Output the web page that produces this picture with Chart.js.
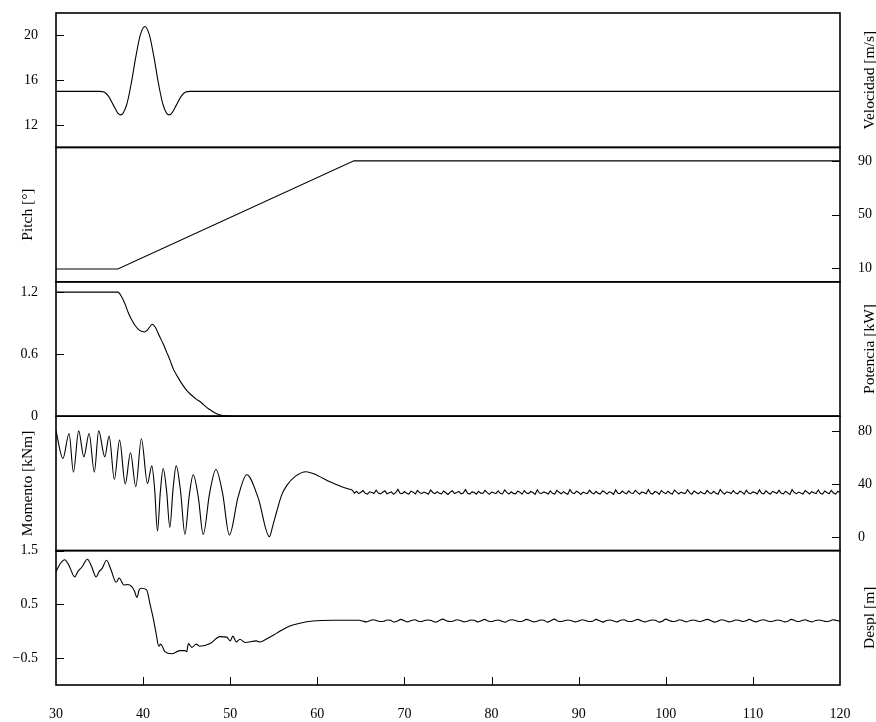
<!DOCTYPE html>
<html>
<head>
<meta charset="utf-8">
<script src="https://cdn.jsdelivr.net/npm/chart.js@4.4.1/dist/chart.umd.min.js"></script>
<style>
  html, body { margin: 0; padding: 0; background: #fff; }
  canvas { display: block; }
</style>
</head>
<body>
<canvas id="c" width="876" height="722"></canvas>
<script>
// ---- time axis [s] ----
const xMin = 30, xMax = 120;
const xTickStep = 10;

// ---- wind speed [m/s] ----
const velT = [30, 35.0, 35.52, 36.04, 36.56, 37.08, 37.44, 38.12, 38.64, 39.16, 39.68, 40.2,
              40.72, 41.24, 41.76, 42.28, 42.96, 43.32, 43.84, 44.36, 44.88, 45.4, 120];
const velV = [15, 15, 14.94, 14.55, 13.82, 13.09, 12.9, 13.83, 15.72, 18.08, 20.04, 20.8,
              20.04, 18.08, 15.72, 13.83, 12.9, 13.09, 13.82, 14.55, 14.94, 15, 15];
const velTicks = [12, 16, 20];

// ---- blade pitch [deg] ----
const pitchT = [30, 37.1, 64.2, 120];
const pitchV = [9.5, 9.5, 90, 90];
const pitchTicks = [10, 50, 90];

// ---- power [kW] ----
const potT = [30, 37.1, 37.5, 37.9, 38.3, 38.7, 39.1, 39.6, 40.15, 40.6,
              41.05, 41.4, 41.9, 42.3, 42.7, 43.1, 43.45, 43.9, 44.4, 45.0,
              45.6, 46.1, 46.7, 47.1, 47.5, 48.0, 48.4, 49.0, 49.6, 50.5, 120];
const potV = [1.2, 1.2, 1.16, 1.09, 1.0, 0.93, 0.875, 0.83, 0.815, 0.845,
              0.89, 0.86, 0.77, 0.70, 0.62, 0.54, 0.46, 0.39, 0.32, 0.25,
              0.20, 0.165, 0.13, 0.10, 0.072, 0.045, 0.026, 0.01, 0.003, 0, 0];
const potTicks = [0, 0.6, 1.2];

// ---- bending moment [kNm] ----
const momT = [30.0, 30.8, 31.5, 32.0, 32.6, 33.2, 33.8, 34.4, 34.9, 35.6,
              36.1, 36.7, 37.3, 37.95, 38.55, 39.16, 39.8, 40.5, 41.0, 41.33,
              41.65, 41.98, 42.3, 42.69, 43.07, 43.44, 43.8, 44.3, 44.8, 45.28,
              45.75, 46.33, 46.9, 47.63, 48.36, 49.13, 49.9, 50.9, 51.9, 53.2,
              54.5, 54.9, 55.33, 55.9, 56.5, 57.5, 58.7, 60.0, 61.45, 62.8, 64.0];
const momV = [80, 59.3, 78, 49, 80, 60.5, 78, 49, 80, 60.5,
              76, 43.5, 73, 40, 63.5, 38, 74, 40.5, 53.7, 35.6,
              4.7, 34.3, 51.7, 35.3, 7.5, 36.6, 53.7, 34.6, 2.2, 30.4,
              47, 30.4, 2.2, 33.0, 51, 32.8, 1.7, 30.2, 47, 29.8,
              0.5, 9, 19.2, 31.7, 39, 46, 49.3, 46.5, 41.7, 38, 35.5];
// steady-state record after feathering, sampled every 0.25 s from 64.25 s
const momTailStart = 64.25, momTailStep = 0.25;
const momTail = [
  33.2, 34.6, 32.8, 33.9, 35.1, 33.0, 32.4, 34.2, 33.6, 32.9, 35.4, 33.3, 32.6, 33.8, 34.9, 32.7,
  33.5, 34.1, 32.3, 33.7, 36.0, 33.1, 32.8, 34.4, 33.0, 32.5, 34.7, 33.9, 32.6, 35.2, 33.4, 32.9,
  34.0, 33.2, 32.4, 35.6, 33.7, 32.8, 34.3, 33.1, 32.6, 34.8, 33.5, 32.2, 33.9, 35.0, 32.9, 33.6,
  34.5, 32.7, 33.3, 35.8, 33.0, 32.5, 34.1, 33.8, 32.4, 34.6, 33.2, 32.9, 35.3, 33.6, 32.3, 34.0,
  33.4, 32.8, 34.9, 33.1, 32.6, 35.5, 33.7, 32.5, 34.2, 33.0, 32.7, 34.7, 33.9, 32.4, 35.1, 33.3,
  32.8, 34.4, 33.6, 32.3, 35.7, 33.2, 32.9, 34.1, 33.5, 32.6, 34.8, 33.0, 32.5, 35.2, 33.8, 32.7,
  34.3, 33.1, 32.4, 35.9, 33.4, 32.8, 34.6, 33.7, 32.2, 34.0, 33.3, 32.9, 35.4, 33.5, 32.6, 34.5,
  33.0, 32.7, 35.0, 33.9, 32.5, 34.2, 33.6, 32.3, 35.6, 33.1, 32.8, 34.7, 33.4, 32.6, 34.9, 33.2,
  32.9, 35.3, 33.7, 32.4, 34.1, 33.5, 32.7, 35.8, 33.0, 32.5, 34.4, 33.8, 32.3, 35.1, 33.6, 32.8,
  34.6, 33.3, 32.5, 35.5, 33.9, 32.6, 34.0, 33.2, 32.9, 35.7, 33.4, 32.4, 34.8, 33.7, 32.7, 34.3,
  33.1, 32.6, 35.2, 33.5, 32.8, 34.5, 33.0, 32.3, 35.9, 33.8, 32.5, 34.2, 33.6, 32.9, 35.0, 33.2,
  32.7, 34.7, 33.9, 32.4, 35.4, 33.3, 32.8, 34.1, 33.7, 32.5, 35.6, 33.0, 32.6, 34.9, 33.5, 32.3,
  34.4, 33.8, 32.9, 35.3, 33.1, 32.7, 34.6, 33.4, 32.2, 35.8, 33.6, 32.8, 34.0, 33.2, 32.5, 35.1,
  33.9, 32.6, 34.3, 33.5, 32.9, 35.5, 33.0, 32.4, 34.8, 33.7, 32.7, 35.2, 33.3, 32.5, 34.5, 33.8
];
const momTicks = [0, 40, 80];

// ---- tower displacement [m] ----
const desT = [30.0, 30.5, 31.0, 31.5, 32.15, 32.5, 33.0, 33.6, 34.1, 34.6,
              34.95, 35.3, 35.8, 36.3, 36.9, 37.25, 37.8, 38.2, 38.7, 39.0,
              39.3, 39.55, 39.8, 40.4, 40.8, 41.2, 41.5, 41.8, 42.0, 42.2,
              42.5, 43.3, 44.2, 44.8, 45.0, 45.2, 45.6, 46.1, 46.5, 47.7,
              48.8, 49.6, 50.0, 50.3, 50.7, 51.1, 51.7, 53.0, 53.4, 54.2,
              55.3, 56.7, 58.0, 59.5, 61.8, 64.4];
const desV = [1.11, 1.26, 1.33, 1.22, 1.01, 1.11, 1.2, 1.34, 1.2, 1.01,
              1.11, 1.17, 1.32, 1.15, 0.91, 0.99, 0.86, 0.87, 0.83, 0.75,
              0.63, 0.77, 0.80, 0.77, 0.5, 0.21, -0.05, -0.28, -0.24, -0.28,
              -0.38, -0.42, -0.36, -0.36, -0.38, -0.23, -0.30, -0.24, -0.28, -0.23,
              -0.10, -0.11, -0.18, -0.09, -0.20, -0.15, -0.21, -0.18, -0.20, -0.14,
              -0.04, 0.09, 0.15, 0.19, 0.205, 0.205];
// steady-state record, sampled every 0.4 s from 64.8 s
const desTailStart = 64.8, desTailStep = 0.4;
const desTail = [
  0.205, 0.19, 0.175, 0.195, 0.215, 0.2, 0.18, 0.185, 0.21, 0.205, 0.17, 0.19, 0.22, 0.195, 0.175, 0.2,
  0.215, 0.185, 0.18, 0.205, 0.21, 0.19, 0.17, 0.2, 0.225, 0.195, 0.18, 0.19, 0.215, 0.2, 0.175, 0.185,
  0.21, 0.205, 0.175, 0.195, 0.22, 0.19, 0.18, 0.2, 0.21, 0.185, 0.17, 0.205, 0.215, 0.195, 0.18, 0.19,
  0.22, 0.2, 0.175, 0.185, 0.21, 0.205, 0.17, 0.195, 0.225, 0.19, 0.18, 0.2, 0.21, 0.195, 0.175, 0.19,
  0.215, 0.2, 0.18, 0.185, 0.22, 0.195, 0.17, 0.2, 0.21, 0.19, 0.175, 0.205, 0.215, 0.185, 0.18, 0.2,
  0.22, 0.195, 0.175, 0.19, 0.21, 0.205, 0.17, 0.185, 0.225, 0.2, 0.18, 0.19, 0.215, 0.195, 0.175, 0.2,
  0.21, 0.19, 0.18, 0.205, 0.22, 0.195, 0.17, 0.19, 0.215, 0.2, 0.175, 0.185, 0.21, 0.205, 0.18, 0.195,
  0.22, 0.19, 0.175, 0.2, 0.215, 0.195, 0.18, 0.19, 0.21, 0.2, 0.175, 0.185, 0.22, 0.2, 0.18, 0.195,
  0.215, 0.19, 0.175, 0.2, 0.21, 0.195, 0.18, 0.19, 0.215, 0.2, 0.19
];
const desTicks = [-0.5, 0.5, 1.5];

// ---- helpers ----
const pts = (t, v) => t.map((x, i) => ({ x, y: v[i] }));
const tail = (start, step, v) => v.map((y, i) => ({ x: +(start + i * step).toFixed(3), y }));

const FONT = '"Liberation Serif", "Times New Roman", serif';
Chart.defaults.font.family = FONT;
Chart.defaults.font.size = 14;
Chart.defaults.color = '#000';

const fmt = v => (v < 0 ? '\u2212' + Math.abs(v) : String(v));

// panels from top to bottom: which side carries the numbers, and the title
const panels = [
  { name: 'Velocidad [m/s]', L: 'L1', R: 'R1', tickSide: 'left' },
  { name: 'Pitch [\u00b0]',   L: 'L2', R: 'R2', tickSide: 'right' },
  { name: 'Potencia [kW]',   L: 'L3', R: 'R3', tickSide: 'left' },
  { name: 'Momento [kNm]',   L: 'L4', R: 'R4', tickSide: 'right' },
  { name: 'Despl [m]',       L: 'L5', R: 'R5', tickSide: 'left' }
];

const noPad = s => { s.paddingTop = 0; s.paddingBottom = 0; s.paddingLeft = 0; s.paddingRight = 0; };

function yAxis(side, idx, min, max, ticks, showTicks) {
  return {
    type: 'linear',
    position: side,
    stack: side,
    // left boxes are placed by descending weight, right boxes by ascending weight
    weight: side === 'left' ? 10 - idx : idx,
    stackWeight: 1,
    min, max,
    grid: { display: false, drawTicks: false },
    border: { display: false },
    ticks: {
      display: showTicks,
      padding: 18,
      autoSkip: false,
      color: '#000',
      font: { size: 14, family: FONT },
      callback: fmt
    },
    afterBuildTicks: s => { s.ticks = ticks.map(v => ({ value: v })); },
    afterFit: s => { s.width = side === 'left' ? 56 : 36; noPad(s); }
  };
}

const ranges = [
  [10, 22, velTicks],
  [0, 100, pitchTicks],
  [0, 1.3, potTicks],
  [-10, 91, momTicks],
  [-1, 1.5, desTicks]
];

const scales = {
  x: {
    type: 'linear',
    position: 'bottom',
    min: xMin, max: xMax,
    grid: { display: false, drawTicks: false },
    border: { display: false },
    ticks: { stepSize: xTickStep, padding: 21, color: '#000', font: { size: 14, family: FONT }, maxRotation: 0 },
    afterFit: s => { s.height = 37; noPad(s); }
  }
};
panels.forEach((p, i) => {
  const [mn, mx, tk] = ranges[i];
  scales[p.L] = yAxis('left', i + 1, mn, mx, tk, p.tickSide === 'left');
  scales[p.R] = yAxis('right', i + 1, mn, mx, tk, p.tickSide === 'right');
});

// frames around each panel, inward tick marks and side titles
const panelFrame = {
  id: 'panelFrame',
  afterDraw(chart) {
    const { ctx, chartArea: a } = chart;
    const sc = chart.scales;
    ctx.save();
    ctx.strokeStyle = '#000';
    ctx.lineWidth = 1;
    ctx.beginPath();
    panels.forEach(p => {
      const s = sc[p.tickSide === 'left' ? p.L : p.R];
      s.ticks.forEach(t => {
        const y = Math.round(s.getPixelForValue(t.value)) + 0.5;
        if (p.tickSide === 'left') { ctx.moveTo(a.left, y); ctx.lineTo(a.left + 8, y); }
        else { ctx.moveTo(a.right, y); ctx.lineTo(a.right - 8, y); }
      });
    });
    sc.x.ticks.forEach(t => {
      if (t.value > xMin && t.value < xMax) {
        const x = Math.round(sc.x.getPixelForValue(t.value)) + 0.5;
        ctx.moveTo(x, a.bottom); ctx.lineTo(x, a.bottom - 8);
      }
    });
    ctx.stroke();

    ctx.lineWidth = 1.6;
    panels.forEach(p => {
      const s = sc[p.L];
      ctx.strokeRect(a.left, s.top, a.right - a.left, s.bottom - s.top);
    });

    ctx.fillStyle = '#000';
    ctx.font = '15.5px ' + FONT;
    ctx.textAlign = 'center';
    ctx.textBaseline = 'middle';
    panels.forEach(p => {
      const s = sc[p.L];
      const cy = (s.top + s.bottom) / 2;
      const cx = p.tickSide === 'left' ? a.right + 30 : a.left - 28;
      ctx.save();
      ctx.translate(cx, cy);
      ctx.rotate(-Math.PI / 2);
      ctx.fillText(p.name, 0, 0);
      ctx.restore();
    });
    ctx.restore();
  }
};

const lineStyle = {
  borderColor: '#000',
  borderWidth: 1.1,
  pointRadius: 0,
  fill: false,
  cubicInterpolationMode: 'monotone'
};
const straight = { cubicInterpolationMode: 'default', tension: 0 };

// the steady tail of the moment record is drawn point to point
const momHead = pts(momT, momV);
const momRest = [momHead[momHead.length - 1]].concat(tail(momTailStart, momTailStep, momTail));

new Chart(document.getElementById('c'), {
  type: 'line',
  data: {
    datasets: [
      { ...lineStyle, label: 'Velocidad', data: pts(velT, velV), yAxisID: 'L1' },
      { ...lineStyle, ...straight, label: 'Pitch', data: pts(pitchT, pitchV), yAxisID: 'R2' },
      { ...lineStyle, label: 'Potencia', data: pts(potT, potV), yAxisID: 'L3' },
      { ...lineStyle, label: 'Momento', data: momHead, yAxisID: 'R4' },
      { ...lineStyle, ...straight, label: 'Momento (régimen)', data: momRest, yAxisID: 'R4' },
      { ...lineStyle, label: 'Despl', data: pts(desT, desV).concat(tail(desTailStart, desTailStep, desTail)), yAxisID: 'L5' }
    ]
  },
  options: {
    responsive: false,
    animation: false,
    layout: { padding: { top: 13, left: 0, right: 0, bottom: 0 } },
    plugins: { legend: { display: false }, tooltip: { enabled: false }, title: { display: false } },
    scales
  },
  plugins: [panelFrame]
});
</script>
</body>
</html>
